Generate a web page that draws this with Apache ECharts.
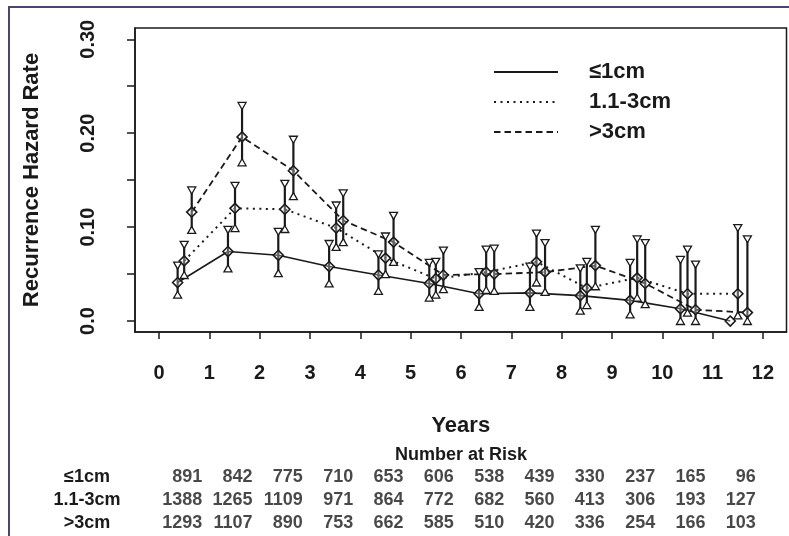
<!DOCTYPE html>
<html>
<head>
<meta charset="utf-8">
<script src="https://cdn.jsdelivr.net/npm/echarts@6/dist/echarts.min.js"></script>
<style>
    html, body { margin: 0; padding: 0; background: #fff; }
    #container { width: 789px; height: 536px; }
</style>
</head>
<body>
<div id="container"></div>
<script>
// axis ticks
var years = [0, 1, 2, 3, 4, 5, 6, 7, 8, 9, 10, 11, 12];
var yTicks = [0, 0.05, 0.10, 0.15, 0.20, 0.25, 0.30];
var yLabels = [0, 0.10, 0.20, 0.30];
var groups = ['≤1cm', '1.1-3cm', '>3cm'];

// hazard estimates (x = years, est / lower / upper)
var xSmall = [0.37, 1.37, 2.37, 3.38, 4.36, 5.37, 6.36, 7.37, 8.37, 9.36, 10.36, 11.35];
var estSmall = [0.041, 0.074, 0.070, 0.058, 0.049, 0.040, 0.029, 0.030, 0.027, 0.022, 0.013, 0.000];
var loSmall = [0.028, 0.056, 0.051, 0.040, 0.032, 0.025, 0.015, 0.015, 0.011, 0.007, 0.000, null];
var hiSmall = [0.059, 0.097, 0.095, 0.082, 0.071, 0.062, 0.052, 0.058, 0.056, 0.062, 0.065, null];

var xMid = [0.50, 1.51, 2.50, 3.52, 4.50, 5.50, 6.50, 7.50, 8.50, 9.50, 10.50, 11.50];
var estMid = [0.064, 0.120, 0.119, 0.099, 0.067, 0.045, 0.052, 0.063, 0.035, 0.046, 0.029, 0.029];
var loMid = [0.049, 0.099, 0.098, 0.079, 0.050, 0.028, 0.033, 0.041, 0.017, 0.025, 0.009, 0.006];
var hiMid = [0.081, 0.144, 0.146, 0.123, 0.090, 0.063, 0.076, 0.093, 0.063, 0.087, 0.076, 0.099];

var xLarge = [0.65, 1.65, 2.67, 3.66, 4.66, 5.65, 6.66, 7.67, 8.67, 9.66, 10.66, 11.69];
var estLarge = [0.116, 0.196, 0.160, 0.107, 0.084, 0.049, 0.050, 0.052, 0.059, 0.040, 0.012, 0.009];
var loLarge = [0.097, 0.169, 0.133, 0.084, 0.063, 0.034, 0.032, 0.031, 0.037, 0.018, 0.000, 0.000];
var hiLarge = [0.139, 0.229, 0.193, 0.136, 0.112, 0.075, 0.077, 0.083, 0.097, 0.083, 0.060, 0.087];

// number at risk table
var riskYears = [0.5, 1.5, 2.5, 3.5, 4.5, 5.5, 6.5, 7.5, 8.5, 9.5, 10.5, 11.5];
var riskSmall = [891, 842, 775, 710, 653, 606, 538, 439, 330, 237, 165, 96];
var riskMid = [1388, 1265, 1109, 971, 864, 772, 682, 560, 413, 306, 193, 127];
var riskLarge = [1293, 1107, 890, 753, 662, 585, 510, 420, 336, 254, 166, 103];

var ink = '#1a1a1a';
var font = '"Liberation Sans", Arial, Helvetica, sans-serif';

function pairs(xs, ys) {
    return xs.map(function (x, i) { return [x, ys[i]]; });
}

function ciData(xs, est, lo, hi) {
    return xs.map(function (x, i) {
        return [x, est[i], lo[i] == null ? '-' : lo[i], hi[i] == null ? '-' : hi[i]];
    });
}

function riskData(row, values) {
    return riskYears.map(function (x, i) { return [x, row, values[i]]; });
}

// error bar with triangles at both ends and a hollow diamond on the estimate
function renderCI(params, api) {
    var x = api.value(0);
    var c = api.coord([x, api.value(1)]);
    var lo = api.value(2), hi = api.value(3);
    var kids = [];
    if (!isNaN(lo) && !isNaN(hi)) {
        var a = api.coord([x, lo]);
        var b = api.coord([x, hi]);
        kids.push({
            type: 'line',
            shape: { x1: a[0], y1: a[1], x2: b[0], y2: b[1] },
            style: { stroke: ink, lineWidth: 2.2 }
        });
        kids.push({
            type: 'polygon',
            shape: { points: [[b[0] - 4, b[1] - 3.5], [b[0] + 4, b[1] - 3.5], [b[0], b[1] + 3.5]] },
            style: { fill: '#fff', stroke: ink, lineWidth: 1.3 }
        });
        kids.push({
            type: 'polygon',
            shape: { points: [[a[0] - 4, a[1] + 3.5], [a[0] + 4, a[1] + 3.5], [a[0], a[1] - 3.5]] },
            style: { fill: '#fff', stroke: ink, lineWidth: 1.3 }
        });
    }
    kids.push({
        type: 'polygon',
        shape: { points: [[c[0], c[1] - 5], [c[0] + 5, c[1]], [c[0], c[1] + 5], [c[0] - 5, c[1]]] },
        style: { fill: 'rgba(255,255,255,0.3)', stroke: ink, lineWidth: 1.6 }
    });
    return { type: 'group', children: kids };
}

var dom = document.getElementById('container');
var myChart = echarts.init(dom, null, { renderer: 'canvas' });

var xMin = -0.477, xMax = 12.467;

var option = {
    animation: false,
    backgroundColor: '#fff',
    textStyle: { fontFamily: font },
    graphic: [
        {
            type: 'rect',
            silent: true,
            z: -10,
            shape: { x: 9, y: 7, width: 900, height: 700 },
            style: { fill: 'none', stroke: '#4e4470', lineWidth: 2 }
        },
        {
            type: 'text',
            silent: true,
            style: {
                x: 461, y: 455, text: 'Number at Risk',
                textAlign: 'center', textVerticalAlign: 'middle',
                font: 'bold 18px ' + font, fill: ink
            }
        }
    ],
    legend: {
        data: groups,
        orient: 'vertical',
        left: 488,
        top: 56,
        itemWidth: 64,
        itemHeight: 14,
        itemGap: 8,
        selectedMode: false,
        itemStyle: { opacity: 0 },
        textStyle: {
            fontSize: 22,
            fontWeight: 'bold',
            color: ink,
            lineHeight: 22,
            padding: [0, 0, 0, 26]
        }
    },
    grid: [
        {
            left: 135, right: 2.5, top: 28, bottom: 204,
            show: true,
            backgroundColor: '#fff',
            borderColor: ink,
            borderWidth: 1.5
        },
        {
            left: 135, right: 2.5, top: 465.5, height: 69
        }
    ],
    xAxis: [
        {
            type: 'value',
            gridIndex: 0,
            min: xMin,
            max: xMax,
            name: 'Years',
            nameLocation: 'middle',
            nameGap: 83,
            nameTextStyle: { fontSize: 22, fontWeight: 'bold', color: ink },
            splitLine: { show: false },
            axisLine: { show: true, onZero: false, lineStyle: { color: ink, width: 1.5 } },
            axisTick: { show: true, length: 7, customValues: years, lineStyle: { color: ink, width: 1.5 } },
            axisLabel: {
                customValues: years,
                margin: 31,
                fontSize: 20,
                fontWeight: 'bold',
                color: ink
            }
        },
        {
            type: 'value',
            gridIndex: 1,
            min: xMin,
            max: xMax,
            show: false
        }
    ],
    yAxis: [
        {
            type: 'value',
            gridIndex: 0,
            min: -0.0117,
            max: 0.312,
            name: 'Recurrence Hazard Rate',
            nameLocation: 'middle',
            nameRotate: 90,
            nameGap: 92,
            nameTextStyle: { fontSize: 22, fontWeight: 'bold', color: ink },
            splitLine: { show: false },
            axisLine: { show: true, onZero: false, lineStyle: { color: ink, width: 1.5 } },
            axisTick: { show: true, length: 8, customValues: yTicks, lineStyle: { color: ink, width: 1.5 } },
            axisLabel: {
                customValues: yLabels,
                rotate: 90,
                margin: 37,
                fontSize: 20,
                fontWeight: 'bold',
                color: ink,
                formatter: function (v) {
                    return v === 0 ? '0.0' : v.toFixed(2);
                }
            }
        },
        {
            type: 'category',
            gridIndex: 1,
            data: groups,
            inverse: true,
            axisLine: { show: false },
            axisTick: { show: false },
            splitLine: { show: false },
            axisLabel: {
                interval: 0,
                align: 'center',
                margin: 48,
                fontSize: 18,
                fontWeight: 'bold',
                color: ink
            }
        }
    ],
    series: [
        {
            name: groups[0],
            type: 'line',
            symbol: 'none',
            data: pairs(xSmall, estSmall),
            lineStyle: { color: ink, width: 1.6, type: 'solid' },
            itemStyle: { color: ink },
            z: 2
        },
        {
            name: groups[1],
            type: 'line',
            symbol: 'none',
            data: pairs(xMid, estMid),
            lineStyle: { color: ink, width: 2, type: [2, 4.5] },
            itemStyle: { color: ink },
            z: 2
        },
        {
            name: groups[2],
            type: 'line',
            symbol: 'none',
            data: pairs(xLarge, estLarge),
            lineStyle: { color: ink, width: 1.8, type: [6.5, 4] },
            itemStyle: { color: ink },
            z: 2
        },
        {
            name: 'ci-small',
            type: 'custom',
            renderItem: renderCI,
            encode: { x: 0, y: 1 },
            clip: false,
            data: ciData(xSmall, estSmall, loSmall, hiSmall),
            z: 3
        },
        {
            name: 'ci-mid',
            type: 'custom',
            renderItem: renderCI,
            encode: { x: 0, y: 1 },
            clip: false,
            data: ciData(xMid, estMid, loMid, hiMid),
            z: 3
        },
        {
            name: 'ci-large',
            type: 'custom',
            renderItem: renderCI,
            encode: { x: 0, y: 1 },
            clip: false,
            data: ciData(xLarge, estLarge, loLarge, hiLarge),
            z: 3
        },
        {
            name: 'risk',
            type: 'scatter',
            xAxisIndex: 1,
            yAxisIndex: 1,
            symbolSize: 1,
            itemStyle: { color: 'rgba(0,0,0,0)' },
            silent: true,
            encode: { x: 0, y: 1 },
            label: {
                show: true,
                position: 'inside',
                align: 'right',
                offset: [18, 0],
                fontSize: 18,
                fontWeight: 'bold',
                color: ink,
                formatter: function (p) { return String(p.value[2]); }
            },
            data: riskData(groups[0], riskSmall)
                .concat(riskData(groups[1], riskMid))
                .concat(riskData(groups[2], riskLarge))
        }
    ]
};

if (option && typeof option === 'object') {
    myChart.setOption(option, true);
}
</script>
</body>
</html>
